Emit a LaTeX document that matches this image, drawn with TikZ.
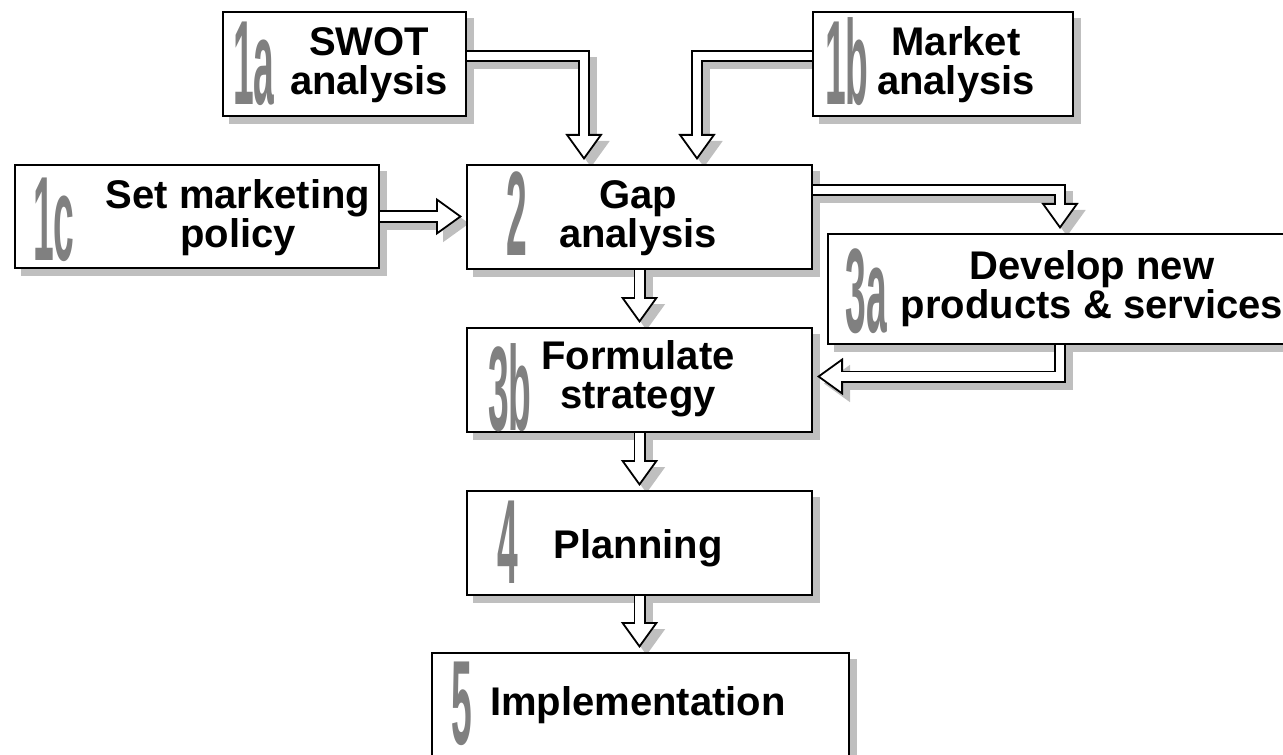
\documentclass[tikz,border=0pt]{standalone}
\usepackage{fontspec}
\setmainfont{Liberation Sans}
\usetikzlibrary{arrows.meta}
\definecolor{numgray}{HTML}{808080}
\definecolor{boxshade}{HTML}{BFBFBF}
\pgfdeclarelayer{shade}
\pgfdeclarelayer{links}
\pgfsetlayers{shade,links,main}
\tikzset{
  stage/.style={draw=black, fill=white, line width=1pt, inner sep=0pt},
  lab/.style={font=\bfseries\fontsize{20}{19.5}\selectfont, align=center, anchor=base, inner sep=0pt},
  num/.style={text=numgray, font=\bfseries\fontsize{60}{60}\selectfont, anchor=base, inner sep=0pt},
  flow/.style={draw=black, line width=6pt, line join=miter, shorten >=2pt,
    -{Triangle[width=18.5pt, length=13pt, line width=0.9pt, fill=white]},
    preaction={draw=boxshade, line width=6pt, shorten >=2pt,
      transform canvas={shift={(3.5pt,-3.5pt)}},
      -{Triangle[width=18.5pt, length=13pt, line width=0.9pt, fill=boxshade]}},
    postaction={draw=white, line width=4.2pt, shorten >=13.8pt, -}},
}

\begin{document}
\begin{tikzpicture}[x=0.5pt, y=-0.5pt]
  \useasboundingbox (0,0) rectangle (1283,754);
  % stages
  \node[stage, minimum width=121.5pt, minimum height=52pt] (swot) at (344.5,64) {};
  \node[stage, minimum width=130pt, minimum height=52pt] (market) at (943,64) {};
  \node[stage, minimum width=182pt, minimum height=51.5pt] (policy) at (197,216.5) {};
  \node[stage, minimum width=172.5pt, minimum height=52pt] (gap) at (639.5,217) {};
  \node[stage, minimum width=232pt, minimum height=55pt] (develop) at (1060,289) {};
  \node[stage, minimum width=172.5pt, minimum height=52pt] (strategy) at (639.5,380) {};
  \node[stage, minimum width=172.5pt, minimum height=52pt] (planning) at (639.5,543) {};
  \node[stage, minimum width=208.5pt, minimum height=61pt] (impl) at (640.5,714) {};
  % step numbers
  \foreach \t/\x/\y in {1a/254/105, 1b/847/105, 1c/54/260, 2/517/255,
                        3a/866/332, 3b/510/430, 4/508/583, 5/462/744}
    \node[num] (n\t) at (\x,\y) {\scalebox{0.31}[1]{\t}};
  % texts
  \node[lab] (tswot) at (369,95) {SWOT\\analysis};
  \node[lab] (tmarket) at (956,95) {Market\\analysis};
  \node[lab] (tpolicy) at (238,247) {Set marketing\\policy};
  \node[lab] (tgap) at (638,247) {Gap\\analysis};
  \node[lab] (tdevelop) at (1092,318) {Develop new\\products \& services};
  \node[lab] (tstrategy) at (638,408) {Formulate\\strategy};
  \node[lab] (tplanning) at (638,558) {Planning};
  \node[lab] (timpl) at (638,715) {Implementation};
  % shadows
  \begin{pgfonlayer}{shade}
    \foreach \b in {swot,market,policy,gap,develop,strategy,planning,impl}
      \fill[boxshade] ([shift={(3.5pt,-3.5pt)}]\b.south west) rectangle ([shift={(3.5pt,-3.5pt)}]\b.north east);
  \end{pgfonlayer}
  % links
  \begin{pgfonlayer}{links}
    \draw[flow] ([yshift=4pt]swot.east) -| ([xshift=-27.75pt]gap.north);
    \draw[flow] ([yshift=4pt]market.west) -| ([xshift=28.75pt]gap.north);
    \draw[flow] (policy.east) -- (policy.east -| gap.west);
    \draw[flow] ([yshift=13.5pt]gap.east) -| (develop.north);
    \draw[flow] (develop.south) |- ([yshift=1.75pt]strategy.east);
    \draw[flow] (gap.south) -- (strategy.north);
    \draw[flow] (strategy.south) -- (planning.north);
    \draw[flow] (planning.south) -- (planning.south |- impl.north);
  \end{pgfonlayer}
\end{tikzpicture}
\end{document}
